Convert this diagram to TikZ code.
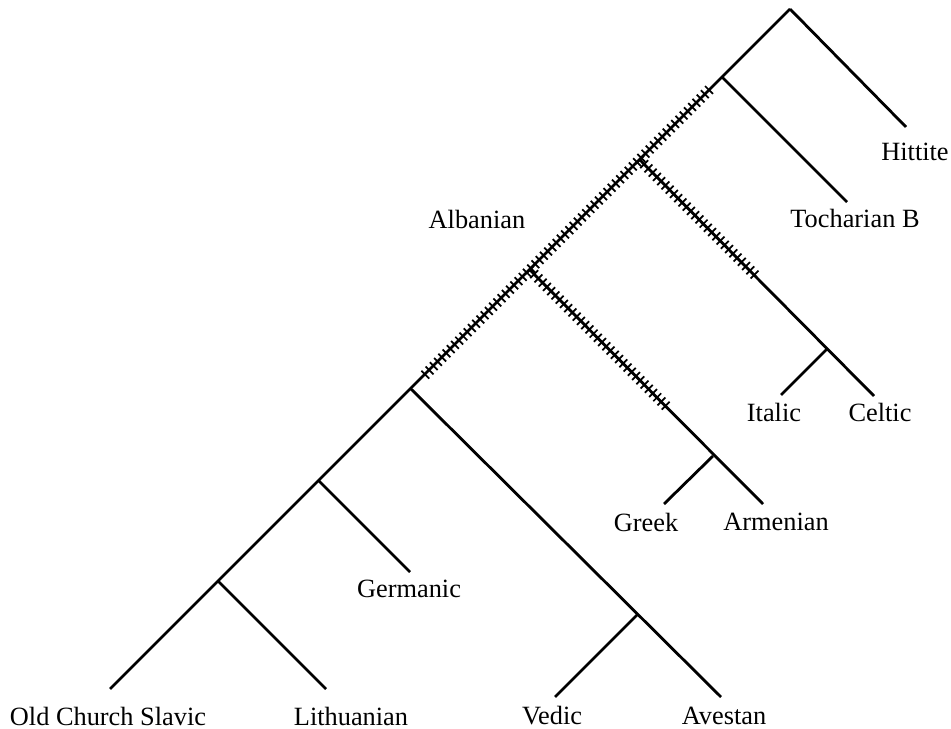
\documentclass[tikz,border=0pt]{standalone}
\usepackage{fontspec}
\setmainfont{Liberation Serif}
\usetikzlibrary{decorations.markings}

\tikzset{
  branch/.style={line width=1.6pt},
  hatch/.style={decorate, decoration={markings,
      mark=between positions 0 and 1 step 0.12cm with
        {\draw[line width=1pt] (0,-0.11cm) -- (0,0.11cm);}}},
  lang/.style={font=\fontsize{15}{18}\selectfont, inner sep=0pt}
}

\begin{document}
\begin{tikzpicture}[x=0.02cm, y=-0.02cm]
\useasboundingbox (0,0) rectangle (951,729);

% split points
\coordinate (root) at (790,9);
\coordinate (toch) at (722,77);
\coordinate (itce) at (640,160);
\coordinate (grar) at (530,270);
\coordinate (sat) at (411,389);
\coordinate (germ) at (319,481);
\coordinate (balt) at (218,581);
\coordinate (inir) at (637,615);
\coordinate (ic) at (827,349);
\coordinate (ga) at (713,456);

% leaves
\coordinate (hitt) at (906,127);
\coordinate (tochb) at (847,202);
\coordinate (celt) at (874,396);
\coordinate (ital) at (781,395);
\coordinate (arm) at (763,504);
\coordinate (grk) at (664,504);
\coordinate (ocs) at (110,689);
\coordinate (lith) at (326,689);
\coordinate (gmc) at (410,572);
\coordinate (ved) at (555,697);
\coordinate (ave) at (721,697);

% ends of the ticked stretches
\coordinate (hA) at (709,90);
\coordinate (hB) at (425,375);
\coordinate (hC) at (757,277);
\coordinate (hD) at (670,410);

\draw[branch] (root) -- (hitt);
\draw[branch] (root) -- (ocs);
\draw[branch] (toch) -- (tochb);
\draw[branch] (itce) -- (celt);
\draw[branch] (ic) -- (ital);
\draw[branch] (grar) -- (arm);
\draw[branch] (ga) -- (grk);
\draw[branch] (sat) -- (ave);
\draw[branch] (inir) -- (ved);
\draw[branch] (germ) -- (gmc);
\draw[branch] (balt) -- (lith);

\path[hatch] (hA) -- (hB);
\path[hatch] (itce) -- (hC);
\path[hatch] (grar) -- (hD);

\node[lang] (hittl) at (915,152) {Hittite};
\node[lang] (tochl) at (855,218) {Tocharian B};
\node[lang] (albl) at (477,219) {Albanian};
\node[lang] (itall) at (774,412) {Italic};
\node[lang] (celtl) at (880,412) {Celtic};
\node[lang] (grkl) at (646,522) {Greek};
\node[lang] (arml) at (776,522) {Armenian};
\node[lang] (gmcl) at (409,589) {Germanic};
\node[lang] (ocsl) at (108,716) {Old Church Slavic};
\node[lang] (lithl) at (351,716) {Lithuanian};
\node[lang] (vedl) at (552,716) {Vedic};
\node[lang] (avel) at (724,716) {Avestan};
\end{tikzpicture}
\end{document}
